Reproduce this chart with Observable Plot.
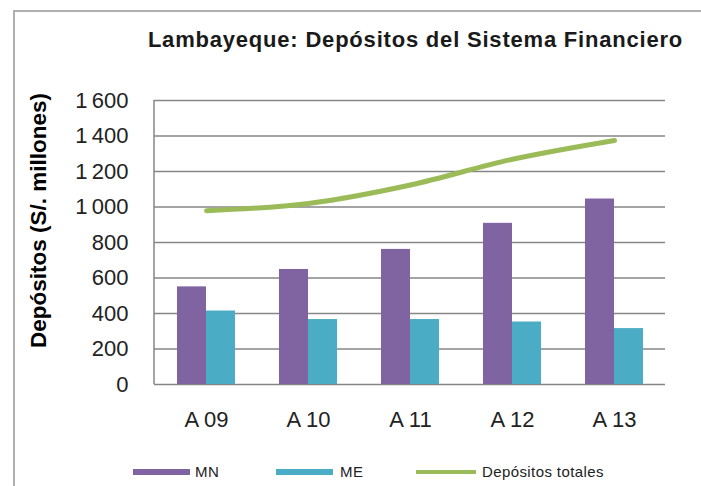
<!DOCTYPE html>
<html>
<head>
<meta charset="utf-8">
<script src="https://cdn.jsdelivr.net/npm/d3@7"></script>
<script src="https://cdn.jsdelivr.net/npm/@observablehq/plot@0.6"></script>
<style>
  html, body { margin: 0; padding: 0; background: #fff; }
  #wrap { position: relative; width: 701px; height: 486px; overflow: hidden; font-family: "Liberation Sans", Arial, sans-serif; background: #fff; }
  #frameTop { position: absolute; left: 13px; top: 10px; width: 700px; height: 2px; background: #b0b0b0; }
  #frameLeft { position: absolute; left: 13px; top: 10px; width: 2px; height: 480px; background: #b0b0b0; }
  #title { position: absolute; left: 100px; width: 631px; top: 27px; text-align: center; font-size: 22px; font-weight: bold; color: #1a1a1a; line-height: 26px; letter-spacing: 0.8px; }
  #chart { position: absolute; left: 0; top: 80px; }
  #legend { position: absolute; left: 0; top: 462px; width: 701px; height: 20px; font-size: 15px; color: #222; }
  .sw { position: absolute; }
  .lb { position: absolute; top: 1px; letter-spacing: 0.4px; line-height: 18px; }
</style>
</head>
<body>
<div id="wrap">
  <div id="frameTop"></div>
  <div id="frameLeft"></div>
  <div id="title">Lambayeque: Depósitos del Sistema Financiero</div>
  <div id="chart"></div>
  <div id="legend"></div>
</div>
<script>
const years = ["A 09", "A 10", "A 11", "A 12", "A 13"];
const mn = [550, 648, 761, 908, 1045];
const me = [414, 366, 366, 352, 315];
const totales = [979, 1020, 1124, 1269, 1375];
const yTicks = [0, 200, 400, 600, 800, 1000, 1200, 1400, 1600];
const seriesNames = ["MN", "ME", "Depósitos totales"];
const seriesColors = ["#8064a2", "#4bacc6", "#9bbb59"];

const rows = years.map((y, i) => ({year: y, mn: mn[i], me: me[i], total: totales[i]}));
const fmt = d => d >= 1000 ? Math.floor(d / 1000) + "\u2009" + String(d % 1000).padStart(3, "0") : String(d);

const plot = Plot.plot({
  width: 701,
  height: 360,
  marginLeft: 154,
  marginRight: 36,
  marginTop: 20,
  marginBottom: 56,
  style: {fontFamily: "Liberation Sans, Arial, sans-serif", background: "transparent"},
  x: {domain: years, paddingInner: 0.433, paddingOuter: 0.2165, label: null},
  y: {domain: [0, 1600], label: null},
  marks: [
    Plot.gridY(yTicks, {stroke: "#868686", strokeOpacity: 1, strokeWidth: 1.5}),
    Plot.barY(rows, {x: "year", y: "mn", fill: seriesColors[0], insetRight: 29}),
    Plot.barY(rows, {x: "year", y: "me", fill: seriesColors[1], insetLeft: 29}),
    Plot.lineY(rows, {x: "year", y: "total", stroke: seriesColors[2], strokeWidth: 5, curve: "catmull-rom", strokeLinecap: "round"}),
    Plot.axisY(yTicks, {tickFormat: fmt, tickSize: 0, tickPadding: 26, fontSize: 22, fill: "#222", label: null}),
    Plot.axisX({tickSize: 0, tickPadding: 27, fontSize: 22, fill: "#222", label: null}),
    Plot.text(["Depósitos (S/. millones)"], {frameAnchor: "left", dx: -116, dy: -22, y: 800, rotate: -90, fontSize: 22.5, fontWeight: "bold", fill: "#000", textAnchor: "middle"})
  ]
});
// left axis line drawn from the plot's own scale ranges
const xr = plot.scale("x").range, yr = plot.scale("y").range;
d3.select(plot).append("line")
  .attr("x1", xr[0]).attr("x2", xr[0])
  .attr("y1", yr[0]).attr("y2", yr[1])
  .attr("stroke", "#868686").attr("stroke-width", 1.5);
document.getElementById("chart").appendChild(plot);

// legend
const legend = document.getElementById("legend");
const legendPos = [
  {sx: 133, sw: 57, lx: 195, h: 6},
  {sx: 276, sw: 57, lx: 340, h: 6},
  {sx: 416, sw: 60, lx: 482, h: 4}
];
seriesNames.forEach((name, i) => {
  const p = legendPos[i];
  const s = document.createElement("div");
  s.className = "sw";
  s.style.left = p.sx + "px";
  s.style.width = p.sw + "px";
  s.style.top = (10 - p.h / 2) + "px";
  s.style.height = p.h + "px";
  s.style.background = seriesColors[i];
  legend.appendChild(s);
  const l = document.createElement("div");
  l.className = "lb";
  l.style.left = p.lx + "px";
  l.textContent = name;
  legend.appendChild(l);
});
</script>
</body>
</html>
